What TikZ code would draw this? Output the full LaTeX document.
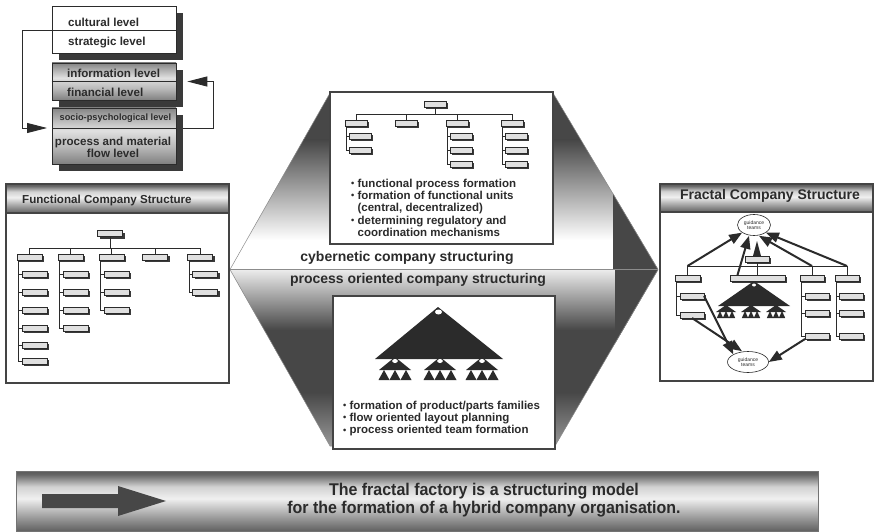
\documentclass[tikz,border=0pt]{standalone}
\usepackage{fontspec}
\setmainfont{Liberation Sans}
\newfontfamily\narrowfont[FakeStretch=0.94]{Liberation Sans}
\usetikzlibrary{arrows.meta,shapes.geometric,shadows}

\definecolor{ink}{HTML}{2B2B2B}
\definecolor{shadowgray}{HTML}{3A3A3A}
\definecolor{hexdark}{HTML}{474747}
\definecolor{framegray}{HTML}{444444}

% brushed-metal look for header bars and the banner
\pgfdeclareverticalshading{metal}{100bp}{%
  color(0bp)=(black!62); color(25bp)=(black!62);
  color(36bp)=(black!40); color(52bp)=(black!6);
  color(62bp)=(black!18); color(72bp)=(black!60);
  color(75bp)=(black!65); color(100bp)=(black!65)}
\pgfdeclareverticalshading{stackmetal}{100bp}{%
  color(0bp)=(black!50); color(25bp)=(black!50);
  color(40bp)=(black!28); color(55bp)=(black!12);
  color(68bp)=(black!35); color(75bp)=(black!48); color(100bp)=(black!48)}

\newcommand\bul{\raisebox{0.5pt}{\scalebox{0.8}{\textbullet}}\ }

\begin{document}
\begin{tikzpicture}[x=1pt,y=-1pt,
  conn/.style={draw=ink, line width=0.6pt},
  obox/.style={draw=ink, line width=0.45pt, fill=black!12, minimum width=#1,
    minimum height=6pt, inner sep=0pt, outer sep=0pt,
    drop shadow={shadow xshift=2pt, shadow yshift=-2pt, fill=shadowgray, opacity=1}},
  obox/.default=25pt,
  lvl/.style={draw=ink, line width=0.7pt, minimum width=124pt, inner sep=0pt},
  lvltxt/.style={font=\bfseries\fontsize{11.6}{12.5}\selectfont, text=ink, inner sep=0pt},
  panel/.style={draw=framegray, line width=1.3pt, fill=white, inner sep=0pt},
  bigtxt/.style={font=\bfseries\fontsize{11.5}{12.4}\selectfont, text=ink, inner sep=0pt, align=left},
  midtxt/.style={font=\bfseries\fontsize{14}{15}\selectfont, text=ink, inner sep=0pt},
  loopline/.style={draw=ink, line width=0.9pt, -{Triangle[length=20pt,width=10pt]}},
  frarrow/.style={draw=ink, line width=2pt, -{Triangle[length=13pt,width=10pt]}},
  team/.style={ellipse, draw=ink, line width=0.6pt, fill=white, inner sep=0pt, align=center,
    font=\fontsize{5}{5.5}\selectfont, text=ink},
]
\useasboundingbox (0,0) rectangle (876,532);
\fill[white] (0,0) rectangle (876,532);

% ---------------- level stack ----------------
\fill[shadowgray] (59,13) rectangle (183,60);
\node[lvl, fill=white, minimum height=47pt] (g1) at (114,30) {};
\draw[conn] (g1.west) -- (g1.east);
\fill[shadowgray] (59,70) rectangle (183,107);
\node[lvl, shading=stackmetal, minimum height=37pt] (g2) at (114,81.5) {};
\draw[conn] (g2.west) -- (g2.east);
\fill[shadowgray] (59,115) rectangle (183,171);
\node[lvl, shading=stackmetal, minimum height=56pt] (g3) at (114,136) {};
\coordinate (g3div) at (52,128);
\draw[conn] (g3div) -- (g3div -| g3.east);

\node[lvltxt, anchor=west] (tcult) at (68,22) {cultural level};
\node[lvltxt, anchor=west] (tstrat) at (68,43) {strategic level};
\node[lvltxt, anchor=west] (tinfo) at (67,73) {information level};
\node[lvltxt, anchor=west] (tfin) at (67,92) {financial level};
\node[lvltxt, font=\bfseries\fontsize{9.2}{9.5}\selectfont, anchor=west] (tsocio) at (59.5,118.5) {socio-psychological level};
\node[lvltxt, align=center] (tproc) at (113,147.5) {process and material\\flow level};

\draw[loopline, shorten >=5pt] (g1.west) -- ++(-29,0) |- (g3div);
\draw[loopline] ([xshift=7pt]g3div -| g3.east) -- ++(30,0) |- ([xshift=11pt]g2.east);

% ---------------- central hexagon ----------------
\begin{scope}
  \clip (330,93) -- (553,93) -- (658,269) -- (230,269) -- cycle;
  \fill[hexdark] (220,88) rectangle (670,140);
  \shade[top color=hexdark, bottom color=white] (220,140) rectangle (670,240);
  \fill[white] (220,240) rectangle (670,270);
  \fill[hexdark] (613,88) rectangle (670,270);
\end{scope}
\begin{scope}
  \clip (230,270) -- (658,270) -- (555,446) -- (330,446) -- cycle;
  \shade[top color=black!8, bottom color=hexdark] (220,270) rectangle (670,330);
  \fill[hexdark] (220,330) rectangle (670,392);
  \shade[top color=hexdark, bottom color=black!40] (220,392) rectangle (670,447);
  \fill[hexdark] (615,265) rectangle (670,450);
\end{scope}
\draw[black!45, line width=0.5pt] (330,93) -- (553,93) -- (658,269.5) -- (555,446) -- (330,446) -- (230,269.5) -- cycle;
\draw[black!45, line width=0.8pt] (230,269.5) -- (658,269.5);
\node[midtxt] (cyb) at (407,258) {cybernetic company structuring};
\node[midtxt] (proc) at (418,280) {process oriented company structuring};

% ---------------- upper centre panel ----------------
\node[panel, minimum width=223pt, minimum height=152pt] (ub) at (441.5,168) {};
\node[obox=22pt] (U0) at (435,104) {};
\coordinate (ubus) at (0,114);
\draw[conn] (U0.south) -- (U0.south |- ubus);
\foreach \cl/\x in {1/356,2/406,3/457,4/512}{
  \node[obox=22pt] (U\cl h) at (\x,123) {};
  \draw[conn] (U\cl h.north) -- (U\cl h.north |- ubus);
}
\draw[conn] (U1h.north |- ubus) -- (U4h.north |- ubus);
\foreach \cl/\x/\ys in {1/356/{136,150}, 3/457/{136,150,164}, 4/512/{136,150,164}}{
  \foreach \yy [count=\k] in \ys {
    \node[obox=22pt] (U\cl c\k) at (\x+4,\yy) {};
    \draw[conn] ([xshift=1.5pt]U\cl h.south west) |- (U\cl c\k.west);
  }
}
\node[bigtxt, anchor=north west] (ubtxt) at (351,178.5)
  {\bul functional process formation\\
   \bul formation of functional units\\
   \phantom{\bul}(central, decentralized)\\
   \bul determining regulatory and\\
   \phantom{\bul}coordination mechanisms};

% ---------------- lower centre panel ----------------
\node[panel, minimum width=222pt, minimum height=153pt] (lb) at (444,372.5) {};
\fill[ink] (438,307) -- (503,359) -- (375,359) -- cycle;
\fill[white] (438.5,312) ellipse (3.5 and 2.5);
\foreach \cx in {395,440,482}{
  \fill[ink] (\cx,357) -- (\cx+16,370) -- (\cx-16,370) -- cycle;
  \fill[white] (\cx,361) ellipse (2.8 and 2);
  \foreach \dx in {-11,0,11}{
    \fill[ink] (\cx+\dx,370) -- (\cx+\dx+5.5,380) -- (\cx+\dx-5.5,380) -- cycle;
  }
}
\node[bigtxt, anchor=north west] (lbtxt) at (343,400.5)
  {\bul formation of product/parts families\\
   \bul flow oriented layout planning\\
   \bul process oriented team formation};

% ---------------- functional company structure ----------------
\node[panel, minimum width=223pt, minimum height=199pt] (fp) at (117.5,283.5) {};
\node[draw=framegray, line width=1.1pt, shading=metal, minimum width=223pt, minimum height=29pt, inner sep=0pt] (fh) at (117.5,198.5) {};
\node[lvltxt, anchor=west] (ft) at (22,201) {Functional Company Structure};
\node[obox] (L0) at (110,233.5) {};
\coordinate (lbus) at (0,248);
\draw[conn] (L0.south) -- (L0.south |- lbus);
\foreach \cl/\x in {1/29.5,2/70.5,3/111.5,4/155,5/200}{
  \node[obox] (L\cl h) at (\x,257) {};
  \draw[conn] (L\cl h.north) -- (L\cl h.north |- lbus);
}
\draw[conn] (L1h.north |- lbus) -- (L5h.north |- lbus);
\foreach \cl/\x/\ys in {1/29.5/{274,292,310,328,345,361}, 2/70.5/{274,292,310,328}, 3/111.5/{274,292,310}, 5/200/{274,292}}{
  \foreach \yy [count=\k] in \ys {
    \node[obox] (L\cl c\k) at (\x+5,\yy) {};
    \draw[conn] ([xshift=1.5pt]L\cl h.south west) |- (L\cl c\k.west);
  }
}

% ---------------- fractal company structure ----------------
\node[panel, minimum width=213pt, minimum height=197pt] (rp) at (766.5,282.5) {};
\node[draw=framegray, line width=1.1pt, shading=metal, minimum width=213pt, minimum height=28pt, inner sep=0pt] (rh) at (766.5,198) {};
\node[midtxt] (rt) at (770,196) {Fractal Company Structure};

\node[team, minimum width=33pt, minimum height=21pt] (tt) at (754,225) {guidance\\teams};
\node[team, minimum width=41pt, minimum height=21pt] (bt) at (748,362) {guidance\\teams};

\node[obox=24pt] (F0) at (757,259) {};
\fill[ink] (753,256) -- (761,256) -- (757,241) -- cycle;
\coordinate (fbus) at (0,266);
\draw[conn] (F0.south) -- (F0.south |- fbus);
\node[obox=25pt] (FAh) at (687.5,278) {};
\node[obox=55pt] (FBh) at (757.5,278) {};
\node[obox=24pt] (FCh) at (812,278) {};
\node[obox=24pt] (FDh) at (847,278) {};
\foreach \n in {A,B,C,D}{\draw[conn] (F\n h.north) -- (F\n h.north |- fbus);}
\draw[conn] (FAh.north |- fbus) -- (FDh.north |- fbus);
\foreach \n/\x/\ys in {A/692/{296,315}, C/817/{296,313,336}, D/851/{296,313,336}}{
  \foreach \yy [count=\k] in \ys {
    \node[obox=24pt] (F\n c\k) at (\x,\yy) {};
    \draw[conn] ([xshift=1.5pt]F\n h.south west) |- (F\n c\k.west);
  }
}
\fill[ink] (754,281) -- (790,306) -- (718,306) -- cycle;
\fill[white] (754,285) ellipse (2 and 1.5);
\foreach \cx in {726,751,776}{
  \fill[ink] (\cx,305) -- (\cx+10,312) -- (\cx-10,312) -- cycle;
  \foreach \dx in {-6,0,6}{
    \fill[ink] (\cx+\dx,311) -- (\cx+\dx+3.2,318) -- (\cx+\dx-3.2,318) -- cycle;
  }
}
\draw[frarrow] (FAh.north |- fbus) -- (tt.south west);
\draw[frarrow] ([xshift=-20pt]FBh.north) -- ([xshift=-5pt]tt.south);
\draw[frarrow] (FCh.north |- fbus) -- ([xshift=5pt]tt.south);
\draw[frarrow] (FDh.north |- fbus) -- (tt.south east);
\draw[frarrow] (FAc1.east) -- (bt.north west);
\draw[frarrow] (FAc2.south) -- ([xshift=-6pt]bt.north);
\draw[frarrow] (FCc3.south west) -- (bt.east);

% ---------------- banner ----------------
\node[draw=black!55, line width=0.6pt, shading=metal, minimum width=802pt, minimum height=60pt, inner sep=0pt] (ban) at (417,501) {};
\fill[hexdark] (42,494) -- (118,494) -- (118,486) -- (166,501) -- (118,516) -- (118,508) -- (42,508) -- cycle;
\node[font=\narrowfont\bfseries\fontsize{17}{18}\selectfont, text=ink, align=center, inner sep=0pt] (bantxt) at (484,500)
  {The fractal factory is a structuring model\\for the formation of a hybrid company organisation.};
\end{tikzpicture}
\end{document}
